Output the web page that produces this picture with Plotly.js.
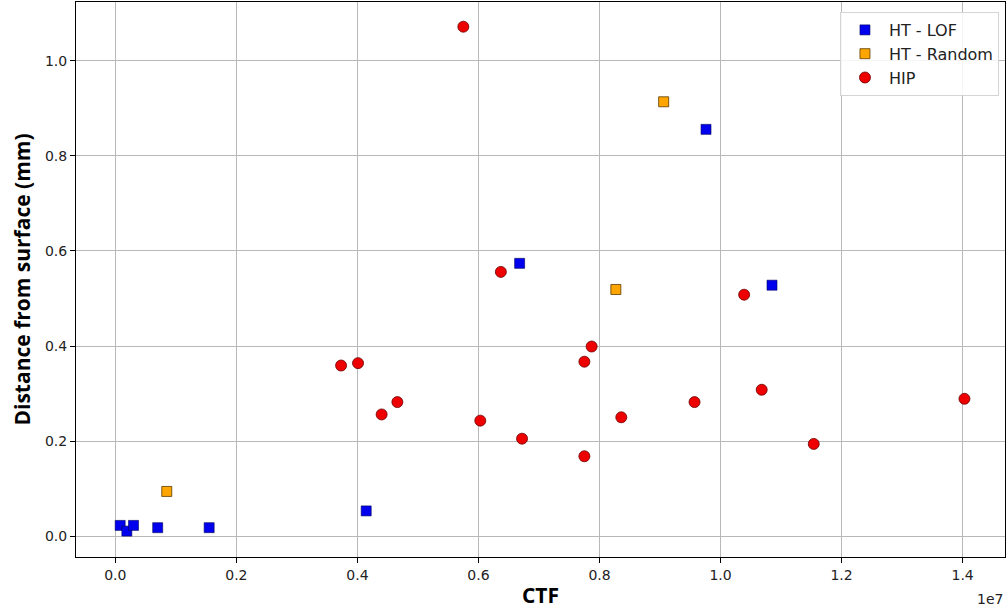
<!DOCTYPE html>
<html>
<head>
<meta charset="utf-8">
<script src="https://cdn.plot.ly/plotly-3.0.1.min.js"></script>
<style>html,body{margin:0;padding:0;background:#fff;}#chart{width:1008px;height:613px;}</style>
</head>
<body>
<div id="chart"></div>
<script>
// HT - LOF (blue squares)
const lofCTF = [0.08e6, 0.19e6, 0.30e6, 0.70e6, 1.55e6, 4.145e6, 6.68e6, 9.76e6, 10.85e6];
const lofDist = [0.0225, 0.0105, 0.0225, 0.0177, 0.0177, 0.053, 0.574, 0.856, 0.528];
// HT - Random (orange squares)
const rndCTF = [0.85e6, 8.27e6, 9.06e6];
const rndDist = [0.094, 0.519, 0.914];
// HIP (red circles)
const hipCTF = [5.75e6, 6.37e6, 3.73e6, 4.01e6, 4.40e6, 4.66e6, 6.03e6, 6.72e6, 7.75e6, 7.87e6, 7.75e6, 8.36e6, 9.57e6, 10.39e6, 10.68e6, 11.54e6, 14.03e6];
const hipDist = [1.072, 0.556, 0.359, 0.364, 0.256, 0.282, 0.243, 0.205, 0.367, 0.399, 0.168, 0.250, 0.282, 0.508, 0.308, 0.194, 0.289];

const xTickVals = [0, 2e6, 4e6, 6e6, 8e6, 10e6, 12e6, 14e6];
const xTickText = ['0.0', '0.2', '0.4', '0.6', '0.8', '1.0', '1.2', '1.4'];
const yTickVals = [0, 0.2, 0.4, 0.6, 0.8, 1.0];
const yTickText = ['0.0', '0.2', '0.4', '0.6', '0.8', '1.0'];

const traces = [
  {x: lofCTF, y: lofDist, mode: 'markers', type: 'scatter', name: 'HT - LOF',
   marker: {symbol: 'square', size: 10, color: '#0000ee', line: {color: '#00005a', width: 0.6}}},
  {x: rndCTF, y: rndDist, mode: 'markers', type: 'scatter', name: 'HT - Random',
   marker: {symbol: 'square', size: 10, color: '#ffa500', line: {color: '#5a3a00', width: 0.8}}},
  {x: hipCTF, y: hipDist, mode: 'markers', type: 'scatter', name: 'HIP',
   marker: {symbol: 'circle', size: 11, color: '#ee0000', line: {color: '#6a0000', width: 0.8}}}
];

const axisCommon = {
  showline: true, linecolor: '#000', linewidth: 1, mirror: true,
  ticks: 'outside', ticklen: 5, tickcolor: '#000', tickwidth: 1,
  showgrid: true, gridcolor: '#b8b8b8', gridwidth: 1, zeroline: false,
  tickfont: {family: 'DejaVu Sans', size: 14, color: '#222'}
};

const layout = {
  width: 1008, height: 613,
  margin: {l: 76, r: 3, t: 2, b: 56},
  paper_bgcolor: '#fff', plot_bgcolor: '#fff',
  showlegend: true,
  legend: {x: 0.9935, y: 0.982, xanchor: 'right', yanchor: 'top',
    bgcolor: 'rgba(255,255,255,0.85)', bordercolor: '#d4d4d4', borderwidth: 1,
    font: {family: 'DejaVu Sans', size: 16, color: '#222'}, itemwidth: 38},
  xaxis: Object.assign({}, axisCommon, {
    range: [-0.65e6, 14.7e6], tickvals: xTickVals, ticktext: xTickText,
    title: {text: 'CTF', font: {family: 'Open Sans', size: 21, color: '#000', weight: 'bold'}, standoff: 6}
  }),
  yaxis: Object.assign({}, axisCommon, {
    range: [-0.044, 1.124], tickvals: yTickVals, ticktext: yTickText,
    title: {text: 'Distance from surface (mm)', font: {family: 'Open Sans', size: 21, color: '#000', weight: 'bold'}, standoff: 8}
  }),
  annotations: [
    {text: '1e7', xref: 'paper', yref: 'paper', x: 1, y: -0.075, xanchor: 'right', yanchor: 'middle',
     showarrow: false, font: {family: 'DejaVu Sans', size: 14, color: '#222'}}
  ]
};

Plotly.newPlot('chart', traces, layout, {displayModeBar: false, responsive: false});
</script>
</body>
</html>
